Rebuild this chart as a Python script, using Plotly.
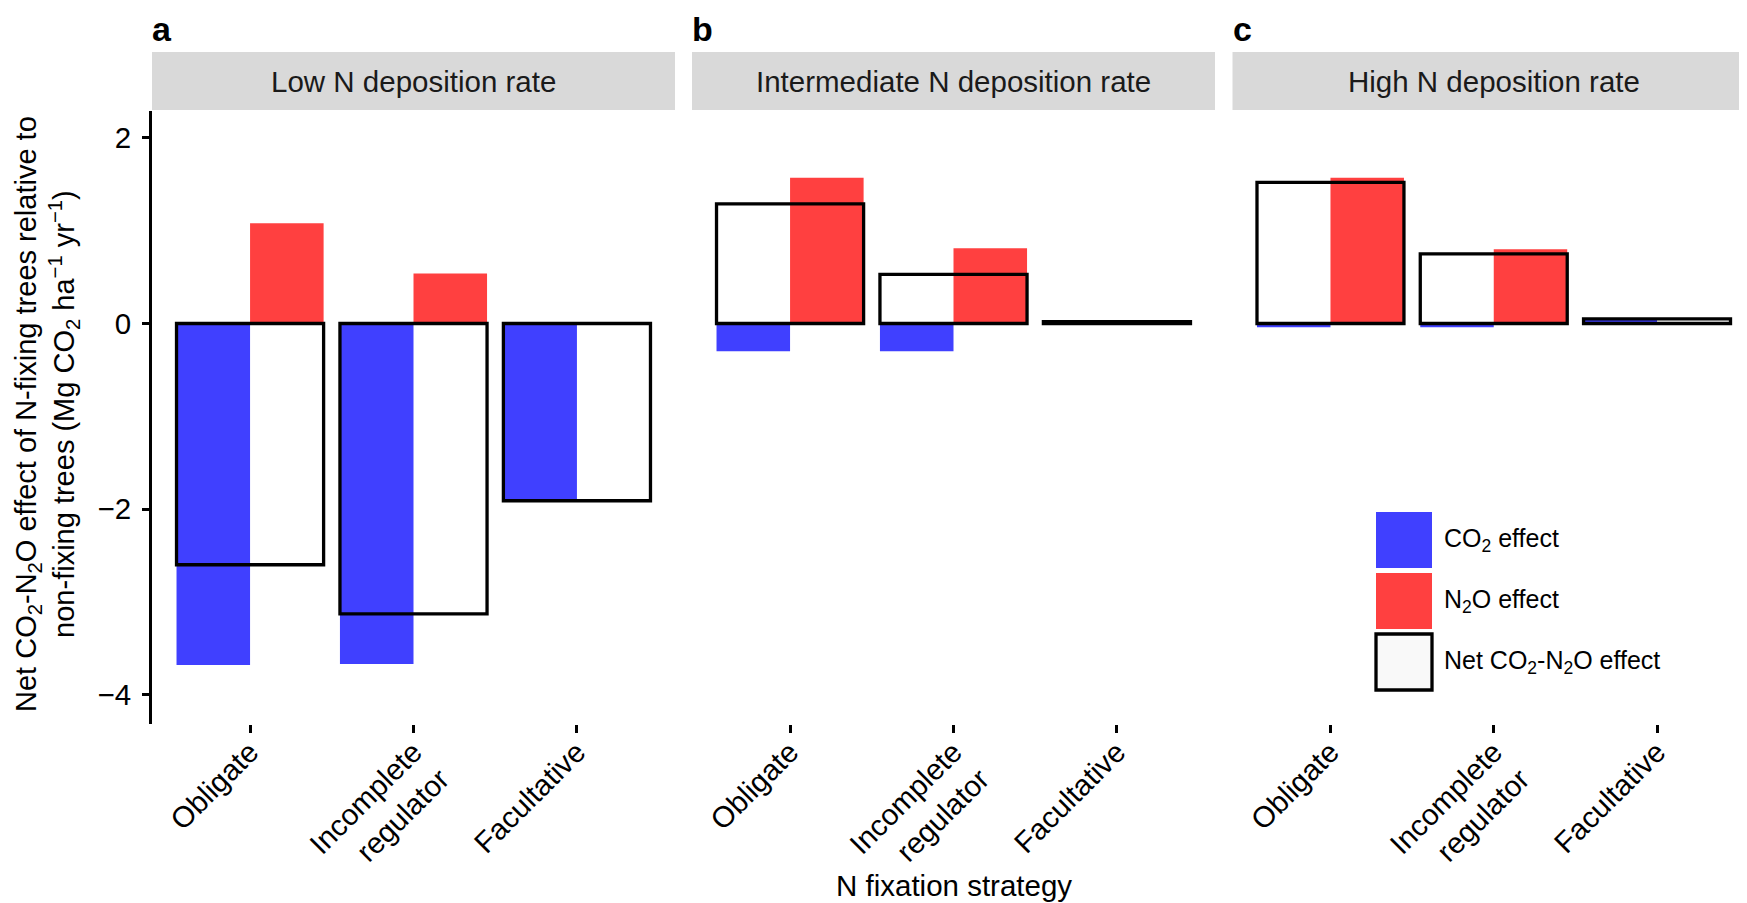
import plotly.graph_objects as go

# ---------------- data ----------------
categories = ["Obligate", "Incomplete regulator", "Facultative"]
tick_labels = ["Obligate", "Incomplete<br>regulator", "Facultative"]
panels = ["Low N deposition rate", "Intermediate N deposition rate", "High N deposition rate"]
panel_letters = ["a", "b", "c"]

co2_low = [-3.68, -3.67, -1.92]
n2o_low = [1.08, 0.54, 0.01]
net_low = [-2.60, -3.13, -1.91]

co2_mid = [-0.30, -0.30, 0.01]
n2o_mid = [1.57, 0.81, 0.01]
net_mid = [1.29, 0.53, 0.02]

co2_high = [-0.04, -0.04, 0.05]
n2o_high = [1.57, 0.80, 0.01]
net_high = [1.52, 0.75, 0.05]

y_ticks = [-4, -2, 0, 2]
legend_labels = ["CO<sub>2</sub> effect", "N<sub>2</sub>O effect", "Net CO<sub>2</sub>-N<sub>2</sub>O effect"]

# ---------------- style ----------------
W, H = 1747, 903
BLUE = "#4040FF"
RED = "#FF4040"
STRIP = "#D9D9D9"
FONT = "Liberation Sans, Arial, Helvetica, sans-serif"
TXT = "#1A1A1A"
FS = 29.5

panel_px = [(144, 667), (684, 1207), (1224.5, 1747)]
panel_top_px, panel_bot_px = 103, 716
strip_top_px = 44

def px_x(v):
    return v / W

def px_y(v):
    return 1 - v / H

series = [(co2_low, n2o_low, net_low), (co2_mid, n2o_mid, net_mid), (co2_high, n2o_high, net_high)]

fig = go.Figure()
for i, (co2, n2o, net) in enumerate(series):
    ax = "" if i == 0 else str(i + 1)
    fig.add_trace(go.Bar(x=categories, y=co2, width=0.45, offset=-0.45,
                         marker=dict(color=BLUE, line=dict(width=0)),
                         xaxis="x" + ax, yaxis="y" + ax, showlegend=False, name="CO2 effect"))
    fig.add_trace(go.Bar(x=categories, y=n2o, width=0.45, offset=0.0,
                         marker=dict(color=RED, line=dict(width=0)),
                         xaxis="x" + ax, yaxis="y" + ax, showlegend=False, name="N2O effect"))
    fig.add_trace(go.Bar(x=categories, y=net, width=0.9, offset=-0.45,
                         marker=dict(color="rgba(0,0,0,0)", line=dict(color="black", width=3.3)),
                         xaxis="x" + ax, yaxis="y" + ax, showlegend=False, name="Net effect"))

yrange = [-4.316, 2.29]
layout = dict(
    width=W, height=H,
    margin=dict(l=0, r=0, t=0, b=0),
    paper_bgcolor="white", plot_bgcolor="white",
    barmode="overlay",
    font=dict(family=FONT, size=FS, color="black"),
    showlegend=False,
)
shapes = []
annotations = []
for i in range(3):
    ax = "" if i == 0 else str(i + 1)
    x0, x1 = panel_px[i]
    layout["xaxis" + ax] = dict(
        domain=[px_x(x0), px_x(x1)], anchor="y" + ax,
        type="category", categoryorder="array", categoryarray=categories,
        range=[-0.6, 2.6], tickvals=categories, ticktext=tick_labels,
        tickangle=-45, ticks="outside", ticklen=8, tickwidth=3.3, tickcolor="black",
        ticklabelstandoff=-10,
        showline=False, showgrid=False, zeroline=False,
        tickfont=dict(size=FS, color="black", family=FONT),
    )
    ydict = dict(
        domain=[px_y(panel_bot_px), px_y(panel_top_px)], anchor="x" + ax,
        range=yrange, showgrid=False, zeroline=False,
    )
    if i == 0:
        ydict.update(showline=True, linewidth=2.7, linecolor="black",
                     ticks="outside", ticklen=7, tickwidth=2.7, tickcolor="black",
                     ticklabelstandoff=5,
                     tickvals=y_ticks, tickfont=dict(size=FS, color="black", family=FONT))
    else:
        ydict.update(showline=False, showticklabels=False, ticks="", matches="y")
    layout["yaxis" + ax] = ydict

    # facet strip
    shapes.append(dict(type="rect", xref="paper", yref="paper",
                       x0=px_x(x0), x1=px_x(x1), y0=px_y(panel_top_px - 1), y1=px_y(strip_top_px),
                       fillcolor=STRIP, line=dict(width=0), layer="below"))
    annotations.append(dict(text=panels[i], xref="paper", yref="paper",
                            x=px_x((x0 + x1) / 2), y=px_y((strip_top_px + panel_top_px) / 2),
                            showarrow=False, xanchor="center", yanchor="middle",
                            font=dict(size=FS, color=TXT, family=FONT)))
    annotations.append(dict(text="<b>" + panel_letters[i] + "</b>", xref="paper", yref="paper",
                            x=px_x(x0 - 2), y=px_y(21), showarrow=False,
                            xanchor="left", yanchor="middle",
                            font=dict(size=34, color="black", family=FONT)))

# axis titles
annotations.append(dict(
    text="Net CO<sub>2</sub>-N<sub>2</sub>O effect of N-fixing trees relative to<br>"
         "non-fixing trees (Mg CO<sub>2</sub> ha<sup>−1</sup> yr<sup>−1</sup>)",
    xref="paper", yref="paper", x=px_x(39), y=px_y(406),
    textangle=-90, showarrow=False, xanchor="center", yanchor="middle",
    font=dict(size=29, color="black", family=FONT)))
annotations.append(dict(
    text="N fixation strategy", xref="paper", yref="paper",
    x=px_x((panel_px[0][0] + panel_px[2][1]) / 2), y=px_y(877),
    showarrow=False, xanchor="center", yanchor="middle",
    font=dict(size=FS, color="black", family=FONT)))

# legend (drawn manually with large keys)
leg_x, leg_y, key, gap = 1368, 504, 56, 5
key_fill = [BLUE, RED, "#F9F9F9"]
key_line = [dict(width=0), dict(width=0), dict(color="black", width=3.3)]
for k in range(3):
    top = leg_y + k * (key + gap)
    shapes.append(dict(type="rect", xref="paper", yref="paper",
                       x0=px_x(leg_x), x1=px_x(leg_x + key),
                       y0=px_y(top + key), y1=px_y(top),
                       fillcolor=key_fill[k], line=key_line[k]))
    annotations.append(dict(text=legend_labels[k], xref="paper", yref="paper",
                            x=px_x(leg_x + key + 10), y=px_y(top + key / 2),
                            showarrow=False, xanchor="left", yanchor="middle",
                            font=dict(size=25, color="black", family=FONT)))

layout["shapes"] = shapes
layout["annotations"] = annotations
fig.update_layout(**layout)
fig.write_html("out.html")
